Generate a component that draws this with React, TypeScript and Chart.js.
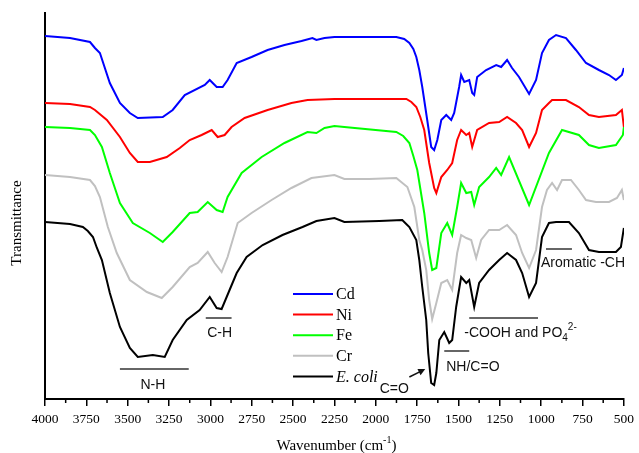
import React, { useEffect, useRef } from 'react';
import { Chart, registerables } from 'chart.js';

Chart.register(...registerables);

// ---- Data (wavenumber cm-1, transmittance a.u.) ----
const seriesNames = ['Cd', 'Ni', 'Fe', 'Cr', 'E. coli'];
const seriesColors = ['#0000ff', '#ff0000', '#00ff00', '#c0c0c0', '#000000'];

const cdData: [number, number][] = [
  [4000, 363], [3849, 361], [3728, 357], [3698, 351], [3668, 346], [3608, 316], [3547, 296], [3487, 286], [3439, 281],
  [3288, 282], [3228, 289], [3155, 304], [3034, 314], [3004, 319], [2962, 312], [2926, 312], [2896, 319],
  [2841, 336], [2751, 342], [2654, 349], [2552, 354], [2449, 358], [2383, 361], [2359, 359], [2310, 361],
  [2250, 362], [1876, 362], [1828, 360], [1797, 356], [1773, 350], [1755, 342], [1737, 329], [1719, 312], [1689, 279], [1665, 252], [1647, 249],
  [1628, 259], [1604, 279], [1574, 284], [1544, 279], [1526, 286], [1496, 312], [1484, 324], [1465, 317],
  [1435, 319], [1417, 306], [1405, 304], [1387, 322], [1333, 329], [1272, 334], [1242, 332], [1206, 339],
  [1176, 331], [1134, 322], [1073, 305], [1031, 319], [995, 346], [953, 359], [910, 364], [850, 361],
  [790, 349], [729, 336], [651, 329], [590, 324], [548, 319], [512, 324], [500, 331],
];

const niData: [number, number][] = [
  [4000, 296], [3849, 295], [3728, 292], [3698, 289], [3626, 279], [3547, 262], [3487, 246], [3439, 237], [3366, 237],
  [3264, 242], [3185, 251], [3125, 259], [3053, 264], [2992, 269], [2956, 262], [2914, 264], [2872, 272],
  [2793, 281], [2654, 289], [2510, 296], [2413, 299], [2250, 300], [1815, 300], [1785, 297], [1755, 292], [1731, 282], [1707, 269],
  [1677, 236], [1647, 211], [1634, 206], [1604, 222], [1568, 229], [1538, 236], [1508, 259], [1484, 269],
  [1453, 264], [1435, 266], [1417, 252], [1387, 269], [1315, 276], [1254, 277], [1206, 282], [1152, 276],
  [1115, 269], [1073, 252], [1031, 266], [995, 289], [953, 296], [934, 299], [850, 299], [772, 292],
  [711, 284], [651, 282], [548, 284], [512, 289], [500, 272],
];

const feData: [number, number][] = [
  [4000, 272], [3849, 271], [3728, 269], [3698, 264], [3656, 252], [3608, 226], [3547, 196], [3469, 176], [3366, 166],
  [3288, 157], [3228, 167], [3125, 186], [3077, 187], [3016, 197], [2962, 189], [2926, 187], [2896, 202],
  [2811, 226], [2690, 242], [2552, 256], [2413, 267], [2359, 266], [2310, 271], [2250, 273], [2190, 272],
  [1876, 267], [1834, 263], [1797, 256], [1773, 243], [1749, 229], [1707, 186], [1677, 146], [1659, 129], [1634, 131], [1604, 166],
  [1568, 176], [1538, 164], [1508, 192], [1484, 216], [1453, 206], [1423, 207], [1405, 194], [1375, 212],
  [1315, 222], [1272, 231], [1242, 224], [1194, 242], [1073, 194], [953, 246], [874, 269], [772, 264],
  [711, 254], [651, 251], [548, 254], [506, 264], [500, 272],
];

const crData: [number, number][] = [
  [4000, 224], [3849, 222], [3728, 219], [3698, 213], [3668, 202], [3620, 172], [3566, 146], [3487, 119], [3384, 107],
  [3294, 101], [3228, 112], [3125, 132], [3077, 136], [3016, 147], [2974, 136], [2932, 127], [2896, 142],
  [2835, 176], [2751, 186], [2630, 199], [2510, 211], [2389, 221], [2250, 224], [2190, 220], [2039, 220],
  [1876, 221], [1809, 212], [1767, 192], [1737, 159], [1719, 149], [1695, 129], [1677, 99], [1659, 80],
  [1634, 96], [1604, 116], [1568, 119], [1538, 109], [1508, 146], [1484, 164], [1453, 161], [1423, 159],
  [1393, 141], [1363, 159], [1315, 169], [1254, 169], [1206, 174], [1152, 164], [1115, 146], [1073, 131],
  [1031, 149], [995, 192], [965, 209], [934, 216], [904, 209], [874, 219], [820, 219], [772, 209],
  [729, 199], [669, 197], [590, 197], [542, 201], [512, 209], [500, 199],
];

const ecoliData: [number, number][] = [
  [4000, 177], [3849, 175], [3771, 172], [3741, 168], [3710, 162], [3686, 151], [3656, 139], [3608, 106], [3547, 72], [3487, 51],
  [3439, 42], [3348, 44], [3276, 42], [3228, 59], [3143, 79], [3065, 89], [3004, 102], [2962, 91],
  [2932, 90], [2884, 109], [2841, 126], [2781, 142], [2684, 154], [2564, 164], [2443, 172], [2359, 178],
  [2250, 181], [2190, 177], [1978, 178], [1840, 179], [1822, 176], [1797, 172], [1755, 159], [1737, 139], [1719, 112],
  [1695, 79], [1683, 46], [1665, 16], [1647, 14], [1634, 26], [1616, 59], [1586, 67], [1556, 56],
  [1538, 59], [1514, 92], [1484, 122], [1453, 116], [1435, 119], [1405, 92], [1375, 116], [1315, 129],
  [1254, 139], [1206, 146], [1152, 139], [1115, 126], [1073, 102], [1031, 116], [995, 162], [953, 176],
  [910, 177], [832, 177], [772, 166], [711, 149], [651, 147], [548, 147], [518, 152], [500, 171],
];

const xTickLabels = [4000, 3750, 3500, 3250, 3000, 2750, 2500, 2250, 2000, 1750, 1500, 1250, 1000, 750, 500];

// Band annotations: bar from..to at level y, label at (w, v)
const bandBars = [
  { from: 3547, to: 3131, y: 30 },
  { from: 3028, to: 2872, y: 81 },
  { from: 1586, to: 1435, y: 48 },
  { from: 1435, to: 1019, y: 81 },
  { from: 971, to: 814, y: 150 },
];
const bandLabels = [
  { text: 'N-H', w: 3348, v: 14, align: 'center' },
  { text: 'C-H', w: 2944, v: 66, align: 'center' },
  { text: 'C=O', w: 1888, v: 10, align: 'center' },
  { text: 'NH/C=O', w: 1574, v: 32, align: 'left' },
  { text: 'Aromatic -CH', w: 1001, v: 136, align: 'left' },
];
const coohLabel = { main: '-COOH and PO', sub: '4', sup: '2-', w: 1465, v: 66 };
const carbonylArrow = { fromW: 1797, fromV: 22, toW: 1701, toV: 30 };

const allSeries = [cdData, niData, feData, crData, ecoliData];

const SANS = '"Liberation Sans", Arial, sans-serif';
const SERIF = '"Liberation Serif", "Times New Roman", serif';

const overlayPlugin = {
  id: 'overlay',
  afterDraw(chart: any) {
    const { ctx, chartArea } = chart;
    const x = chart.scales.x;
    const y = chart.scales.y;
    ctx.save();

    // minor ticks
    ctx.strokeStyle = '#000';
    ctx.lineWidth = 1.5;
    for (const t of x.ticks) {
      if (xTickLabels.includes(t.value)) continue;
      const px = x.getPixelForValue(t.value);
      ctx.beginPath();
      ctx.moveTo(px, chartArea.bottom);
      ctx.lineTo(px, chartArea.bottom + 4);
      ctx.stroke();
    }

    // band bars
    ctx.strokeStyle = '#333';
    ctx.lineWidth = 1.5;
    for (const b of bandBars) {
      const yy = y.getPixelForValue(b.y);
      ctx.beginPath();
      ctx.moveTo(x.getPixelForValue(b.from), yy);
      ctx.lineTo(x.getPixelForValue(b.to), yy);
      ctx.stroke();
    }

    // labels
    ctx.fillStyle = '#111';
    ctx.font = `14px ${SANS}`;
    ctx.textBaseline = 'middle';
    for (const l of bandLabels) {
      ctx.textAlign = l.align as CanvasTextAlign;
      ctx.fillText(l.text, x.getPixelForValue(l.w), y.getPixelForValue(l.v));
    }
    // COOH and PO4 2-
    {
      ctx.textAlign = 'left';
      let tx = x.getPixelForValue(coohLabel.w);
      const ty = y.getPixelForValue(coohLabel.v);
      ctx.font = `14px ${SANS}`;
      ctx.fillText(coohLabel.main, tx, ty);
      tx += ctx.measureText(coohLabel.main).width;
      ctx.font = `10px ${SANS}`;
      ctx.fillText(coohLabel.sub, tx, ty + 5);
      const sw = ctx.measureText(coohLabel.sub).width;
      ctx.fillText(coohLabel.sup, tx + sw, ty - 6);
    }

    // arrow
    {
      const x0 = x.getPixelForValue(carbonylArrow.fromW);
      const y0 = y.getPixelForValue(carbonylArrow.fromV);
      const x1 = x.getPixelForValue(carbonylArrow.toW);
      const y1 = y.getPixelForValue(carbonylArrow.toV);
      const ang = Math.atan2(y1 - y0, x1 - x0);
      ctx.strokeStyle = '#111';
      ctx.lineWidth = 1.5;
      ctx.beginPath();
      ctx.moveTo(x0, y0);
      ctx.lineTo(x1 - 4 * Math.cos(ang), y1 - 4 * Math.sin(ang));
      ctx.stroke();
      const hl = 7, hw = 3.5;
      ctx.beginPath();
      ctx.moveTo(x1, y1);
      ctx.lineTo(x1 - hl * Math.cos(ang) + hw * Math.sin(ang), y1 - hl * Math.sin(ang) - hw * Math.cos(ang));
      ctx.lineTo(x1 - hl * Math.cos(ang) - hw * Math.sin(ang), y1 - hl * Math.sin(ang) + hw * Math.cos(ang));
      ctx.closePath();
      ctx.fill();
    }

    // legend
    {
      const lx0 = 293, lx1 = 333, ltx = 336, ly0 = 294, ldy = 20.6;
      chart.data.datasets.forEach((ds: any, i: number) => {
        const yy = ly0 + i * ldy;
        ctx.strokeStyle = ds.borderColor;
        ctx.lineWidth = 2;
        ctx.beginPath();
        ctx.moveTo(lx0, yy);
        ctx.lineTo(lx1, yy);
        ctx.stroke();
        ctx.fillStyle = '#000';
        ctx.textAlign = 'left';
        ctx.textBaseline = 'middle';
        ctx.font = (ds.label === 'E. coli' ? 'italic ' : '') + `16px ${SERIF}`;
        ctx.fillText(ds.label, ltx, yy + 1);
      });
    }

    // y title
    ctx.save();
    ctx.translate(17, 223);
    ctx.rotate(-Math.PI / 2);
    ctx.fillStyle = '#000';
    ctx.font = `15px ${SERIF}`;
    ctx.textAlign = 'center';
    ctx.textBaseline = 'middle';
    ctx.fillText('Transmittance', 0, 0);
    ctx.restore();

    // x title
    {
      const p1 = 'Wavenumber (cm', sup = '-1', p2 = ')';
      ctx.fillStyle = '#000';
      ctx.textBaseline = 'alphabetic';
      ctx.textAlign = 'left';
      ctx.font = `15px ${SERIF}`;
      const w1 = ctx.measureText(p1).width;
      const w3 = ctx.measureText(p2).width;
      ctx.font = `10px ${SERIF}`;
      const w2 = ctx.measureText(sup).width;
      let tx = (chartArea.left + chartArea.right) / 2 + 2 - (w1 + w2 + w3) / 2;
      const ty = 450;
      ctx.font = `15px ${SERIF}`;
      ctx.fillText(p1, tx, ty);
      tx += w1;
      ctx.font = `10px ${SERIF}`;
      ctx.fillText(sup, tx, ty - 7);
      tx += w2;
      ctx.font = `15px ${SERIF}`;
      ctx.fillText(p2, tx, ty);
    }

    ctx.restore();
  },
};

export default function App() {
  const canvasRef = useRef<HTMLCanvasElement | null>(null);

  useEffect(() => {
    document.body.style.margin = '0';
    const canvas = canvasRef.current;
    if (!canvas) return;
    const chart = new Chart(canvas, {
      type: 'line',
      data: {
        datasets: allSeries.map((s, i) => ({
          label: seriesNames[i],
          data: s.map(([w, v]) => ({ x: w, y: v })),
          borderColor: seriesColors[i],
          backgroundColor: seriesColors[i],
          borderWidth: 2,
          pointRadius: 0,
          tension: 0,
          fill: false,
        })),
      },
      options: {
        animation: false,
        responsive: true,
        maintainAspectRatio: false,
        layout: { padding: { left: 0, right: 14, top: 13, bottom: 0 } },
        plugins: {
          legend: { display: false },
          tooltip: { enabled: false },
          title: { display: false },
        },
        scales: {
          x: {
            type: 'linear',
            reverse: true,
            min: 500,
            max: 4000,
            afterFit: (s: any) => { s.height = 54; },
            border: { display: true, color: '#000', width: 2 },
            grid: {
              display: true,
              drawOnChartArea: false,
              drawTicks: true,
              tickLength: 7,
              lineWidth: 1.5,
              color: (c: any) => (c.tick && xTickLabels.includes(c.tick.value) ? '#000' : 'rgba(0,0,0,0)'),
            },
            ticks: {
              stepSize: 125,
              autoSkip: false,
              maxRotation: 0,
              padding: 5,
              color: '#000',
              font: { family: SERIF, size: 13.5 },
              callback: (v: any) => (xTickLabels.includes(Number(v)) ? String(v) : ''),
            },
          },
          y: {
            type: 'linear',
            min: 0,
            max: 386,
            afterFit: (s: any) => { s.width = 45; },
            border: { display: true, color: '#000', width: 2 },
            grid: { display: false },
            ticks: { display: false },
          },
        },
      },
      plugins: [overlayPlugin],
    });
    return () => chart.destroy();
  }, []);

  return (
    <div style={{ width: 639, height: 453, position: 'relative', background: '#fff' }}>
      <canvas ref={canvasRef} />
    </div>
  );
}
